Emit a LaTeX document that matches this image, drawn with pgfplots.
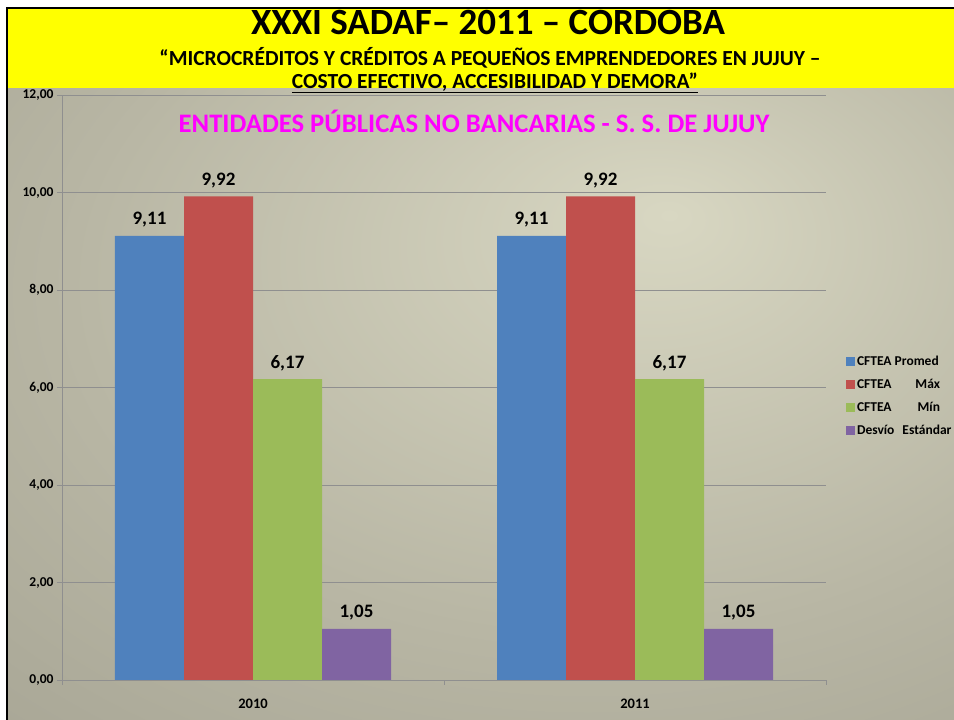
\documentclass[border=0pt]{standalone}
\usepackage{pgfplots}
\pgfplotsset{compat=1.18}
\usepackage{fontspec}
\setmainfont{Carlito}
\definecolor{bBlue}{HTML}{4F81BD}
\definecolor{bRed}{HTML}{C0504D}
\definecolor{bGreen}{HTML}{9BBB59}
\definecolor{bPurple}{HTML}{8064A2}
\definecolor{bgL}{HTML}{D8D7C2}
\definecolor{bgM}{HTML}{B8B6A4}
\definecolor{bgD}{HTML}{8C8A7C}
\definecolor{ttlYellow}{HTML}{FFFF00}
\definecolor{ttlMag}{HTML}{FF00FF}
\definecolor{gridGray}{HTML}{8F8F8F}
\pgfdeclareradialshading{bgshade}{\pgfpoint{10bp}{15bp}}{color(0bp)=(bgL); color(28bp)=(bgM); color(75bp)=(bgD)}
\pgfplotsset{mylegend/.style={legend image code/.code={\fill[##1] (0pt,-4.5pt) rectangle (9pt,4.5pt);}}}
\begin{document}
\begin{tikzpicture}[x=1pt,y=1pt]
\path[use as bounding box] (0,0) rectangle (954,720);
\fill[white] (0,0) rectangle (954,720);
\shade[shading=bgshade] (8,0) rectangle (954,632);
\fill[ttlYellow] (8,632) rectangle (954,711);
\fill[black] (6,0) rectangle (8,713);
\fill[black] (6,711) rectangle (954,713);
\node[font=\fontsize{37}{40}\selectfont\bfseries] at (488,697) {XXXI SADAF– 2011 – CORDOBA};
\node[font=\fontsize{21.5}{24}\selectfont\bfseries] at (490,662) {“MICROCRÉDITOS Y CRÉDITOS A PEQUEÑOS EMPRENDEDORES EN JUJUY –};
\node[font=\fontsize{21.5}{24}\selectfont\bfseries] at (495,637) {\underline{COSTO EFECTIVO, ACCESIBILIDAD Y DEMORA”}};
\begin{axis}[
  at={(62pt,40pt)}, anchor=south west, scale only axis,
  width=764pt, height=585pt,
  ymin=0, ymax=12, xmin=-0.5, xmax=1.5,
  ytick={0,2,4,6,8,10,12},
  xtick={-0.5,0.5,1.5}, xticklabels={},
  extra x ticks={0,1}, extra x tick labels={2010,2011},
  extra x tick style={major tick length=0pt, xticklabel style={font=\fontsize{14.5}{16}\selectfont\bfseries, yshift=-15pt}},
  axis lines*=left,
  axis line style={draw=gridGray, line width=0.7pt},
  ymajorgrids, grid style={draw=gridGray, line width=0.6pt},
  tick align=outside,
  major tick length=5pt,
  tick style={draw=gridGray, line width=0.7pt},
  /pgf/number format/.cd, fixed, fixed zerofill, precision=2, use comma, assume math mode=true,
  /pgfplots/.cd,
  yticklabel style={font=\fontsize{13.5}{15}\selectfont\bfseries},
  ybar=0pt, bar width=69pt,
  nodes near coords,
  nodes near coords style={font=\fontsize{19}{21}\selectfont\bfseries, text=black, yshift=5pt},
  legend style={at={(1.022,0.485)}, anchor=west, draw=none, fill=none,
    font=\fontsize{13.5}{15}\selectfont\bfseries, row sep=8pt,
    cells={anchor=west}},
  clip=false,
]
\addplot[fill=bBlue, draw=none, mylegend] coordinates {(0,9.11) (1,9.11)};
\addlegendentry{CFTEA Promed}
\addplot[fill=bRed, draw=none, mylegend] coordinates {(0,9.92) (1,9.92)};
\addlegendentry{\makebox[83pt][l]{CFTEA\hfill Máx}}
\addplot[fill=bGreen, draw=none, mylegend] coordinates {(0,6.17) (1,6.17)};
\addlegendentry{\makebox[83pt][l]{CFTEA\hfill Mín}}
\addplot[fill=bPurple, draw=none, mylegend] coordinates {(0,1.05) (1,1.05)};
\addlegendentry{Desvío\hspace{8pt}Estándar}
\end{axis}
\node[font=\fontsize{26.7}{29}\selectfont\bfseries, text=ttlMag] at (474,599) {ENTIDADES PÚBLICAS NO BANCARIAS - S. S. DE JUJUY};
\end{tikzpicture}
\end{document}
